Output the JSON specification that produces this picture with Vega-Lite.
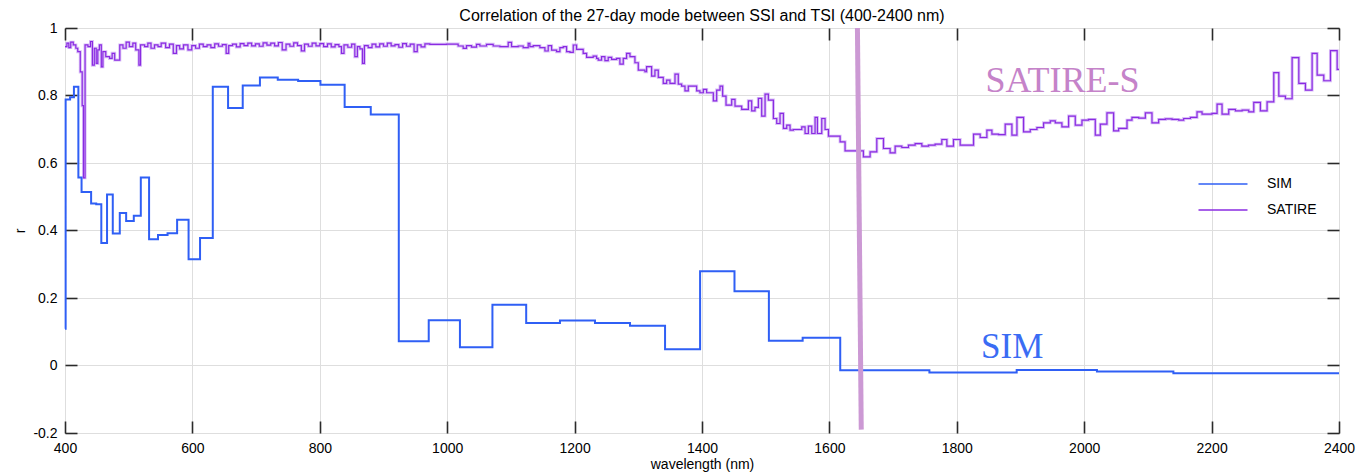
{
  "$schema": "https://vega.github.io/schema/vega-lite/v6.json",
  "width": 1274,
  "height": 405,
  "autosize": {"type": "none"},
  "padding": {"left": 65, "top": 28, "right": 21, "bottom": 39},
  "background": "white",
  "config": {
    "view": {"stroke": "black", "strokeWidth": 1},
    "font": "Liberation Sans",
    "axis": {
      "labelFontSize": 14,
      "labelColor": "black",
      "titleFontSize": 14,
      "titleFontWeight": "normal",
      "titleColor": "black",
      "domainColor": "black",
      "gridColor": "#dedede",
      "labelFlush": false
    }
  },
  "title": {
    "text": "Correlation of the 27-day mode between SSI and TSI  (400-2400 nm)",
    "fontSize": 16,
    "fontWeight": "normal",
    "font": "Liberation Sans",
    "color": "black",
    "offset": -3
  },
  "datasets": {
    "sim": [
      {"w": 400, "r": 0.109}, {"w": 401, "r": 0.788}, {"w": 408, "r": 0.795}, {"w": 414, "r": 0.826},
      {"w": 421, "r": 0.557}, {"w": 426, "r": 0.514}, {"w": 441, "r": 0.48}, {"w": 449, "r": 0.478},
      {"w": 457, "r": 0.363}, {"w": 466, "r": 0.507}, {"w": 475, "r": 0.391}, {"w": 486, "r": 0.452},
      {"w": 496, "r": 0.428}, {"w": 508, "r": 0.444}, {"w": 519, "r": 0.557}, {"w": 532, "r": 0.374},
      {"w": 546, "r": 0.387}, {"w": 561, "r": 0.392}, {"w": 576, "r": 0.432}, {"w": 594, "r": 0.315},
      {"w": 612, "r": 0.378}, {"w": 632, "r": 0.826}, {"w": 656, "r": 0.763}, {"w": 679, "r": 0.83},
      {"w": 706, "r": 0.853}, {"w": 734, "r": 0.847}, {"w": 766, "r": 0.843}, {"w": 801, "r": 0.832},
      {"w": 839, "r": 0.766}, {"w": 880, "r": 0.744}, {"w": 924, "r": 0.072}, {"w": 971, "r": 0.134},
      {"w": 1020, "r": 0.054}, {"w": 1071, "r": 0.18}, {"w": 1124, "r": 0.126}, {"w": 1177, "r": 0.133},
      {"w": 1232, "r": 0.126}, {"w": 1287, "r": 0.118}, {"w": 1342, "r": 0.048}, {"w": 1397, "r": 0.279},
      {"w": 1451, "r": 0.22}, {"w": 1505, "r": 0.073}, {"w": 1558, "r": 0.082}, {"w": 1617, "r": -0.014},
      {"w": 1757, "r": -0.021}, {"w": 1894, "r": -0.013}, {"w": 2020, "r": -0.018}, {"w": 2140, "r": -0.023},
      {"w": 2400, "r": -0.023}
    ],
    "sat": [
      {"w": 400, "r": 0.945}, {"w": 403, "r": 0.955}, {"w": 406, "r": 0.942}, {"w": 409, "r": 0.958},
      {"w": 413, "r": 0.95}, {"w": 417, "r": 0.94}, {"w": 420, "r": 0.93}, {"w": 424, "r": 0.87},
      {"w": 427, "r": 0.77}, {"w": 429, "r": 0.556}, {"w": 431.5, "r": 0.95}, {"w": 436, "r": 0.945},
      {"w": 440, "r": 0.96}, {"w": 443, "r": 0.89}, {"w": 446, "r": 0.94}, {"w": 449, "r": 0.895},
      {"w": 451.5, "r": 0.935}, {"w": 454, "r": 0.95}, {"w": 457, "r": 0.885}, {"w": 459.5, "r": 0.93},
      {"w": 464, "r": 0.915}, {"w": 470, "r": 0.91}, {"w": 474, "r": 0.925}, {"w": 478, "r": 0.905},
      {"w": 486, "r": 0.95}, {"w": 491, "r": 0.94}, {"w": 496, "r": 0.958}, {"w": 501, "r": 0.945},
      {"w": 506.5, "r": 0.955}, {"w": 511, "r": 0.935}, {"w": 516, "r": 0.89}, {"w": 518.5, "r": 0.95},
      {"w": 525, "r": 0.945}, {"w": 530, "r": 0.955}, {"w": 535, "r": 0.94}, {"w": 540.5, "r": 0.95},
      {"w": 546, "r": 0.945}, {"w": 551, "r": 0.955}, {"w": 558, "r": 0.942}, {"w": 564, "r": 0.952},
      {"w": 570, "r": 0.925}, {"w": 575, "r": 0.948}, {"w": 580, "r": 0.938}, {"w": 586, "r": 0.95},
      {"w": 593, "r": 0.935}, {"w": 599, "r": 0.948}, {"w": 605, "r": 0.94}, {"w": 611, "r": 0.952},
      {"w": 617, "r": 0.945}, {"w": 623, "r": 0.95}, {"w": 629, "r": 0.942}, {"w": 635, "r": 0.953},
      {"w": 641, "r": 0.946}, {"w": 647, "r": 0.951}, {"w": 653, "r": 0.925}, {"w": 657, "r": 0.948},
      {"w": 663, "r": 0.952}, {"w": 669, "r": 0.944}, {"w": 675, "r": 0.954}, {"w": 681, "r": 0.948},
      {"w": 687, "r": 0.955}, {"w": 693, "r": 0.947}, {"w": 699, "r": 0.953}, {"w": 705, "r": 0.946},
      {"w": 711, "r": 0.956}, {"w": 717, "r": 0.949}, {"w": 723, "r": 0.955}, {"w": 729, "r": 0.947},
      {"w": 735, "r": 0.957}, {"w": 741, "r": 0.935}, {"w": 747, "r": 0.952}, {"w": 753, "r": 0.946},
      {"w": 759, "r": 0.956}, {"w": 765, "r": 0.948}, {"w": 771, "r": 0.932}, {"w": 776, "r": 0.952},
      {"w": 782, "r": 0.946}, {"w": 788, "r": 0.955}, {"w": 794, "r": 0.947}, {"w": 800, "r": 0.954},
      {"w": 806, "r": 0.945}, {"w": 812, "r": 0.953}, {"w": 818, "r": 0.944}, {"w": 824, "r": 0.951},
      {"w": 830, "r": 0.945}, {"w": 834, "r": 0.925}, {"w": 838, "r": 0.95}, {"w": 844, "r": 0.943},
      {"w": 850, "r": 0.952}, {"w": 855, "r": 0.915}, {"w": 859, "r": 0.945}, {"w": 863, "r": 0.938},
      {"w": 867, "r": 0.895}, {"w": 870, "r": 0.948}, {"w": 876, "r": 0.942}, {"w": 882, "r": 0.952},
      {"w": 888, "r": 0.944}, {"w": 894, "r": 0.953}, {"w": 900, "r": 0.946}, {"w": 906, "r": 0.955},
      {"w": 912, "r": 0.947}, {"w": 918, "r": 0.951}, {"w": 924, "r": 0.943}, {"w": 930, "r": 0.954},
      {"w": 936, "r": 0.946}, {"w": 942, "r": 0.952}, {"w": 948, "r": 0.93}, {"w": 953, "r": 0.95},
      {"w": 959, "r": 0.944}, {"w": 965, "r": 0.953},
      {"w": 972.7, "r": 0.9515}, {"w": 998.9, "r": 0.9525}, {"w": 1017.2, "r": 0.9466}, {"w": 1025.1, "r": 0.9397},
      {"w": 1030.3, "r": 0.9475}, {"w": 1038.2, "r": 0.9436}, {"w": 1046, "r": 0.9515}, {"w": 1051.3, "r": 0.9466},
      {"w": 1061.7, "r": 0.9515}, {"w": 1072.2, "r": 0.9466}, {"w": 1082.7, "r": 0.9446}, {"w": 1095.8, "r": 0.9575},
      {"w": 1101, "r": 0.9446}, {"w": 1111.5, "r": 0.9466}, {"w": 1119.3, "r": 0.9417}, {"w": 1127.2, "r": 0.9545},
      {"w": 1129.8, "r": 0.9446}, {"w": 1135.1, "r": 0.9475}, {"w": 1145.5, "r": 0.9417}, {"w": 1153.4, "r": 0.9318},
      {"w": 1158.6, "r": 0.9475}, {"w": 1163.9, "r": 0.9347}, {"w": 1171.7, "r": 0.9298}, {"w": 1176.9, "r": 0.9417},
      {"w": 1182.2, "r": 0.9446}, {"w": 1187.4, "r": 0.9298}, {"w": 1192.7, "r": 0.9278}, {"w": 1197.9, "r": 0.9496},
      {"w": 1203.1, "r": 0.9367},
      {"w": 1208.3, "r": 0.9367}, {"w": 1213.5, "r": 0.9248}, {"w": 1218.8, "r": 0.913}, {"w": 1229.2, "r": 0.9169},
      {"w": 1234.5, "r": 0.9099}, {"w": 1237.1, "r": 0.905}, {"w": 1242.3, "r": 0.915}, {"w": 1247.6, "r": 0.9031},
      {"w": 1252.8, "r": 0.913}, {"w": 1258.1, "r": 0.907}, {"w": 1265.9, "r": 0.9099}, {"w": 1271.1, "r": 0.8932},
      {"w": 1276.4, "r": 0.9099}, {"w": 1281.6, "r": 0.9248}, {"w": 1286.9, "r": 0.915}, {"w": 1294.7, "r": 0.8971},
      {"w": 1300, "r": 0.8754}, {"w": 1310.4, "r": 0.8704}, {"w": 1313, "r": 0.8853}, {"w": 1320.9, "r": 0.8576},
      {"w": 1326.1, "r": 0.8754}, {"w": 1331.4, "r": 0.8536}, {"w": 1339.2, "r": 0.8358}, {"w": 1344.5, "r": 0.8457},
      {"w": 1349.7, "r": 0.8358}, {"w": 1357.6, "r": 0.8635}, {"w": 1362.8, "r": 0.8338}, {"w": 1368, "r": 0.8279},
      {"w": 1373.3, "r": 0.814}, {"w": 1378.5, "r": 0.8279}, {"w": 1391.6, "r": 0.814}, {"w": 1396.8, "r": 0.8081},
      {"w": 1402.1, "r": 0.818}, {"w": 1407.3, "r": 0.8081}, {"w": 1417.8, "r": 0.7843}, {"w": 1423, "r": 0.816},
      {"w": 1428.3, "r": 0.8279}, {"w": 1432.4, "r": 0.7982}, {"w": 1437.7, "r": 0.7715}, {"w": 1446.6, "r": 0.7883},
      {"w": 1451.8, "r": 0.7685}, {"w": 1462.3, "r": 0.7587}, {"w": 1472.8, "r": 0.7843}, {"w": 1478, "r": 0.7547},
      {"w": 1483.2, "r": 0.7646}, {"w": 1488.5, "r": 0.7913}, {"w": 1493.7, "r": 0.7389}, {"w": 1499, "r": 0.8041},
      {"w": 1504.2, "r": 0.7863}, {"w": 1512.1, "r": 0.7319}, {"w": 1517.3, "r": 0.7171}, {"w": 1522.5, "r": 0.7468},
      {"w": 1527.8, "r": 0.7023}, {"w": 1533, "r": 0.7122}, {"w": 1538.2, "r": 0.6973}, {"w": 1543.5, "r": 0.6993},
      {"w": 1556.6, "r": 0.7072}, {"w": 1561.8, "r": 0.6874}, {"w": 1567, "r": 0.7092}, {"w": 1572.3, "r": 0.6874},
      {"w": 1577.5, "r": 0.7349}, {"w": 1581.2, "r": 0.6874}, {"w": 1588, "r": 0.7319}, {"w": 1593.2, "r": 0.6993},
      {"w": 1598.5, "r": 0.6795}, {"w": 1616.8, "r": 0.6627}, {"w": 1624.6, "r": 0.636},
      {"w": 1635.1, "r": 0.636}, {"w": 1653.4, "r": 0.6182}, {"w": 1663.9, "r": 0.633}, {"w": 1674.4, "r": 0.6726},
      {"w": 1684.9, "r": 0.6429}, {"w": 1695.3, "r": 0.6301}, {"w": 1703.2, "r": 0.6499}, {"w": 1713.7, "r": 0.6459},
      {"w": 1724.1, "r": 0.6528}, {"w": 1734.6, "r": 0.6577}, {"w": 1745.1, "r": 0.6499}, {"w": 1755.6, "r": 0.6528},
      {"w": 1766, "r": 0.6558}, {"w": 1776.5, "r": 0.6696}, {"w": 1784.4, "r": 0.6499}, {"w": 1794.8, "r": 0.6696},
      {"w": 1805.3, "r": 0.6528}, {"w": 1826.3, "r": 0.6855}, {"w": 1836.7, "r": 0.6756}, {"w": 1847.2, "r": 0.6973},
      {"w": 1855.1, "r": 0.6855}, {"w": 1865.5, "r": 0.684}, {"w": 1876, "r": 0.7151}, {"w": 1886.5, "r": 0.6825},
      {"w": 1894.4, "r": 0.7349}, {"w": 1904.8, "r": 0.6924}, {"w": 1915.3, "r": 0.6993}, {"w": 1925.8, "r": 0.7052},
      {"w": 1936.2, "r": 0.7191}, {"w": 1946.7, "r": 0.725}, {"w": 1954.6, "r": 0.7191}, {"w": 1965, "r": 0.7072},
      {"w": 1975.5, "r": 0.7389}, {"w": 1986, "r": 0.7122}, {"w": 1996.5, "r": 0.727}, {"w": 2006.9, "r": 0.729},
      {"w": 2017.4, "r": 0.6825}, {"w": 2025.3, "r": 0.7151}, {"w": 2035.7, "r": 0.7488}, {"w": 2046.2, "r": 0.6954},
      {"w": 2054.1, "r": 0.7023}, {"w": 2067.2, "r": 0.727}, {"w": 2075, "r": 0.7349}, {"w": 2085.5, "r": 0.733},
      {"w": 2096, "r": 0.7488}, {"w": 2106.4, "r": 0.7191}, {"w": 2116.9, "r": 0.729}, {"w": 2127.4, "r": 0.731},
      {"w": 2137.9, "r": 0.729}, {"w": 2148.3, "r": 0.727}, {"w": 2156.2, "r": 0.7319}, {"w": 2166.7, "r": 0.7349},
      {"w": 2177.1, "r": 0.7517}, {"w": 2185, "r": 0.7448}, {"w": 2200.7, "r": 0.7468}, {"w": 2208.6, "r": 0.7745},
      {"w": 2216.4, "r": 0.7448}, {"w": 2226.9, "r": 0.7587}, {"w": 2237.4, "r": 0.7547}, {"w": 2247.9, "r": 0.7567},
      {"w": 2258.3, "r": 0.7517}, {"w": 2266.2, "r": 0.7794}, {"w": 2276.6, "r": 0.7547}, {"w": 2287.1, "r": 0.7814},
      {"w": 2297.6, "r": 0.8675}, {"w": 2305.5, "r": 0.7982}, {"w": 2315.9, "r": 0.7903}, {"w": 2326.4, "r": 0.9125},
      {"w": 2336.9, "r": 0.8358}, {"w": 2347.3, "r": 0.816}, {"w": 2357.8, "r": 0.9248}, {"w": 2365.7, "r": 0.8605},
      {"w": 2376.1, "r": 0.8437}, {"w": 2386.6, "r": 0.9328}, {"w": 2397.1, "r": 0.8773}, {"w": 2400, "r": 0.8773}
    ]
  },
  "layer": [
    {
      "data": {"name": "sat"},
      "mark": {"type": "line", "interpolate": "step-after", "color": "#c9a3f3", "strokeWidth": 3, "opacity": 0.7},
      "encoding": {
        "x": {"field": "w", "type": "quantitative", "scale": {"domain": [400, 2400], "nice": false, "zero": false},
              "axis": {"orient": "top", "offset": -12, "tickSize": 12, "tickColor": "#2a2a2a", "tickWidth": 1.6, "ticks": true, "values": [400, 600, 800, 1000, 1200, 1400, 1600, 1800, 2000, 2200, 2400], "labels": false, "grid": false, "domain": false, "title": null}},
        "y": {"field": "r", "type": "quantitative", "scale": {"domain": [-0.2, 1], "nice": false, "zero": false},
              "axis": {"orient": "right", "offset": -12, "tickSize": 12, "tickColor": "#2a2a2a", "tickWidth": 1.6, "ticks": true, "values": [-0.2, 0, 0.2, 0.4, 0.6, 0.8, 1], "labels": false, "grid": false, "domain": false, "title": null}}
      }
    },
    {
      "data": {"name": "sat"},
      "mark": {"type": "line", "interpolate": "step-after", "strokeWidth": 1.2},
      "encoding": {
        "x": {"field": "w", "type": "quantitative",
              "axis": {"orient": "bottom", "values": [400, 600, 800, 1000, 1200, 1400, 1600, 1800, 2000, 2200, 2400], "grid": true, "ticks": false, "domain": false, "labelExpr": "'' + datum.value", "labelPadding": 8, "title": "wavelength (nm)", "titlePadding": 2}},
        "y": {"field": "r", "type": "quantitative",
              "axis": {"orient": "left", "values": [-0.2, 0, 0.2, 0.4, 0.6, 0.8, 1], "grid": true, "ticks": false, "domain": false, "labelExpr": "'' + round(datum.value * 10) / 10", "labelPadding": 8, "title": "r", "titlePadding": 5}},
        "color": {"datum": "SATIRE", "type": "nominal",
                  "scale": {"domain": ["SIM", "SATIRE"], "range": ["#2f5ff5", "#8a2be2"]},
                  "legend": {"orient": "none", "legendX": 1145, "legendY": 143, "title": null, "symbolType": "M-2,0H2", "symbolSize": 600, "symbolStrokeWidth": 1.5, "labelFontSize": 14, "labelColor": "black", "labelOffset": 31, "rowPadding": 6}}
      }
    },
    {
      "data": {"name": "sim"},
      "mark": {"type": "line", "interpolate": "step-after", "strokeWidth": 2},
      "encoding": {
        "x": {"field": "w", "type": "quantitative",
              "axis": {"orient": "bottom", "offset": -12, "tickSize": 12, "tickColor": "#2a2a2a", "tickWidth": 1.6, "ticks": true, "values": [400, 600, 800, 1000, 1200, 1400, 1600, 1800, 2000, 2200, 2400], "labels": false, "grid": false, "domain": false, "title": null}},
        "y": {"field": "r", "type": "quantitative",
              "axis": {"orient": "left", "offset": -12, "tickSize": 12, "tickColor": "#2a2a2a", "tickWidth": 1.6, "ticks": true, "values": [-0.2, 0, 0.2, 0.4, 0.6, 0.8, 1], "labels": false, "grid": false, "domain": false, "title": null}},
        "color": {"datum": "SIM", "type": "nominal"}
      }
    },
    {
      "data": {"values": [{"w": 1644, "r": 1.0, "w2": 1650, "r2": -0.19}]},
      "mark": {"type": "rule", "color": "#cc99d4", "strokeWidth": 5},
      "encoding": {
        "x": {"field": "w", "type": "quantitative", "axis": null},
        "y": {"field": "r", "type": "quantitative", "axis": null},
        "x2": {"field": "w2"},
        "y2": {"field": "r2"}
      }
    },
    {
      "data": {"values": [{"label": "SATIRE-S", "w": 1966, "r": 0.844}]},
      "mark": {"type": "text", "font": "Liberation Serif", "fontSize": 36, "color": "#c583c9", "align": "center", "baseline": "middle"},
      "encoding": {
        "x": {"field": "w", "type": "quantitative", "axis": null},
        "y": {"field": "r", "type": "quantitative", "axis": null},
        "text": {"field": "label"}
      }
    },
    {
      "data": {"values": [{"label": "SIM", "w": 1887, "r": 0.0555}]},
      "mark": {"type": "text", "font": "Liberation Serif", "fontSize": 35, "color": "#3a6cf4", "align": "center", "baseline": "middle"},
      "encoding": {
        "x": {"field": "w", "type": "quantitative", "axis": null},
        "y": {"field": "r", "type": "quantitative", "axis": null},
        "text": {"field": "label"}
      }
    }
  ],
  "resolve": {"axis": {"x": "independent", "y": "independent"}}
}
